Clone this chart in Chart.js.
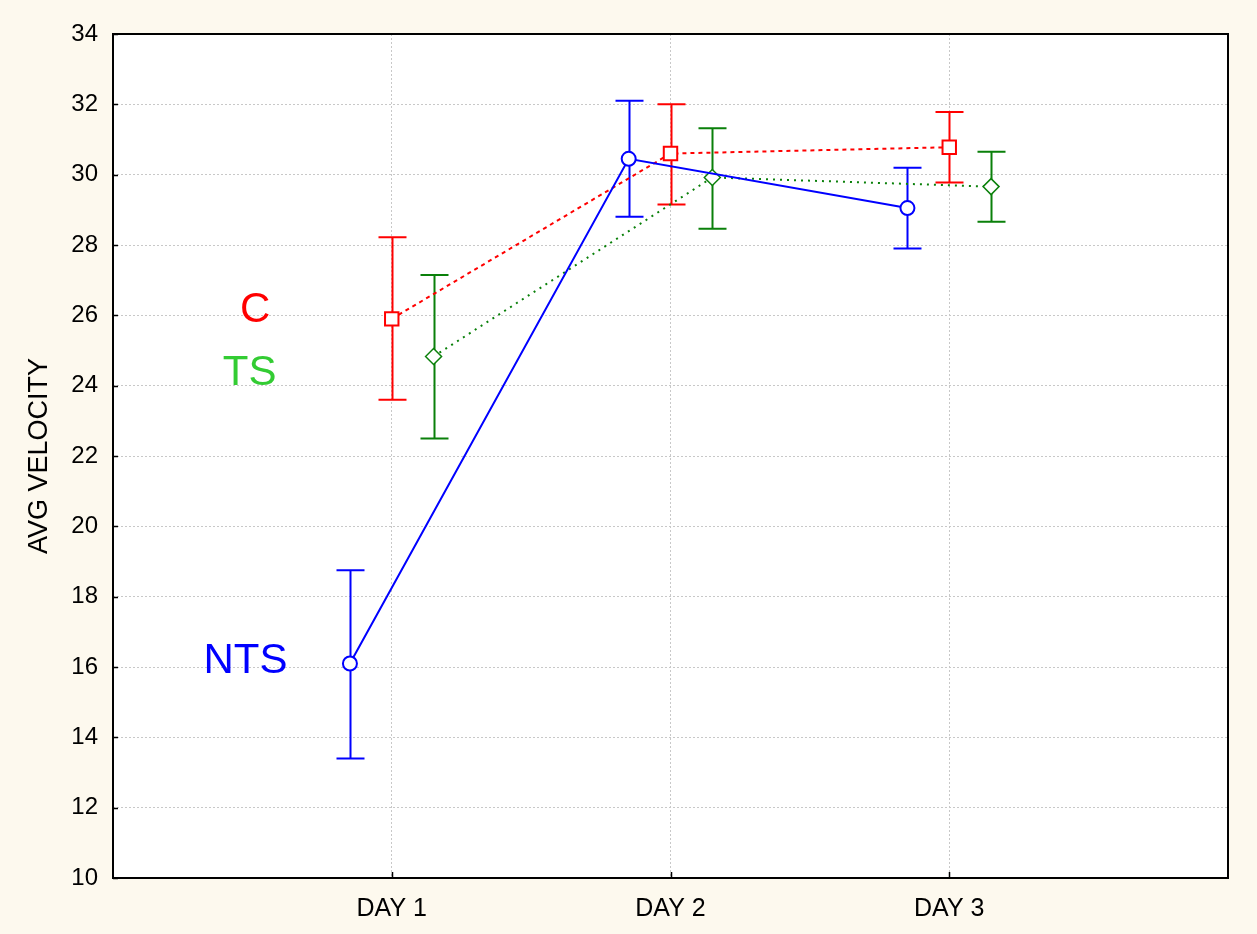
<!DOCTYPE html>
<html>
<head>
<meta charset="utf-8">
<script src="https://cdn.jsdelivr.net/npm/chart.js@4/dist/chart.umd.min.js"></script>
<style>
  html, body { margin: 0; padding: 0; background: #fdf9ee; }
  #wrap { width: 1257px; height: 934px; }
</style>
</head>
<body>
<div id="wrap"><canvas id="velocity" width="1257" height="934"></canvas></div>
<script>
// values
var days = ['DAY 1', 'DAY 2', 'DAY 3'];
var yTicks = [10, 12, 14, 16, 18, 20, 22, 24, 26, 28, 30, 32, 34];
var yTitle = 'AVG VELOCITY';

var ntsMean = [16.1, 30.45, 29.05];
var ntsLow = [13.4, 28.8, 27.9];
var ntsHigh = [18.75, 32.1, 30.2];

var cMean = [25.9, 30.6, 30.78];
var cLow = [23.6, 29.15, 29.78];
var cHigh = [28.22, 32.0, 31.78];

var tsMean = [24.83, 29.92, 29.66];
var tsLow = [22.5, 28.46, 28.66];
var tsHigh = [27.15, 31.32, 30.65];

var ctx = document.getElementById("velocity");
var FONT = '"Liberation Sans", Arial, sans-serif';

// groups are shifted sideways around each day
function pts(mean, low, high, shift) {
  var out = [];
  for (var i = 0; i < mean.length; i++) {
    out.push({ x: i + 1 + shift, y: mean[i], lo: low[i], hi: high[i] });
  }
  return out;
}

// white plot area
var plotBg = {
  id: 'plotBg',
  beforeDraw: function (chart) {
    var c = chart.ctx, a = chart.chartArea;
    c.save();
    c.fillStyle = '#ffffff';
    c.fillRect(a.left, a.top, a.right - a.left, a.bottom - a.top);
    c.restore();
  }
};

// whiskers behind the markers
var errorBars = {
  id: 'errorBars',
  beforeDatasetsDraw: function (chart) {
    var c = chart.ctx, xs = chart.scales.x, ys = chart.scales.y;
    chart.data.datasets.forEach(function (ds) {
      c.save();
      c.strokeStyle = ds.borderColor;
      c.lineWidth = 2;
      ds.data.forEach(function (p) {
        var x = Math.round(xs.getPixelForValue(p.x)) + 0.5;
        var y1 = ys.getPixelForValue(p.lo), y2 = ys.getPixelForValue(p.hi);
        c.beginPath();
        c.moveTo(x, y1); c.lineTo(x, y2);
        c.moveTo(x - 14, y1); c.lineTo(x + 14, y1);
        c.moveTo(x - 14, y2); c.lineTo(x + 14, y2);
        c.stroke();
      });
      c.restore();
    });
  }
};

// frame with inward ticks, axis title and the group names
var frame = {
  id: 'frame',
  afterDraw: function (chart) {
    var c = chart.ctx, a = chart.chartArea, xs = chart.scales.x, ys = chart.scales.y;
    c.save();
    c.strokeStyle = '#000';
    c.lineWidth = 2;
    c.strokeRect(a.left, a.top, a.right - a.left, a.bottom - a.top);
    c.lineWidth = 1.5;
    c.beginPath();
    yTicks.forEach(function (v) {
      var y = Math.round(ys.getPixelForValue(v)) + 0.5;
      c.moveTo(a.left, y); c.lineTo(a.left + 5, y);
    });
    for (var i = 1; i <= days.length; i++) {
      var x = Math.round(xs.getPixelForValue(i)) + 0.5;
      c.moveTo(x, a.bottom); c.lineTo(x, a.bottom - 6);
    }
    c.stroke();

    // y title
    c.save();
    c.translate(40, (a.top + a.bottom) / 2);
    c.rotate(-Math.PI / 2);
    c.fillStyle = '#000';
    c.font = '27px ' + FONT;
    c.textAlign = 'center';
    c.textBaseline = 'middle';
    c.fillText(yTitle, 0, 0);
    c.restore();

    c.font = '42px ' + FONT;
    c.textAlign = 'center';
    c.textBaseline = 'middle';
    var names = [
      { t: 'C', color: '#ff0000', x: 0.51, y: 26.15 },
      { t: 'TS', color: '#33cc33', x: 0.49, y: 24.35 },
      { t: 'NTS', color: '#0000ff', x: 0.475, y: 16.15 }
    ];
    names.forEach(function (n) {
      c.fillStyle = n.color;
      c.fillText(n.t, xs.getPixelForValue(n.x), ys.getPixelForValue(n.y));
    });
    c.restore();
  }
};

var grid = {
  color: '#c8c8c8',
  lineWidth: 1,
  drawTicks: false
};

var myChart = new Chart(ctx, {
  type: 'scatter',
  data: {
    datasets: [{
      label: 'NTS',
      data: pts(ntsMean, ntsLow, ntsHigh, -0.15),
      showLine: true,
      borderColor: '#0000ff',
      backgroundColor: '#ffffff',
      borderWidth: 2,
      pointStyle: 'circle',
      pointRadius: 7,
      pointBorderWidth: 2,
      pointBackgroundColor: '#ffffff'
    }, {
      label: 'C',
      data: pts(cMean, cLow, cHigh, 0),
      showLine: true,
      borderColor: '#ff0000',
      backgroundColor: '#ffffff',
      borderWidth: 2,
      borderDash: [4, 4],
      pointStyle: 'rect',
      pointRadius: 9.5,
      pointBorderWidth: 2,
      pointBackgroundColor: '#ffffff'
    }, {
      label: 'TS',
      data: pts(tsMean, tsLow, tsHigh, 0.15),
      showLine: true,
      borderColor: '#0a800a',
      backgroundColor: '#ffffff',
      borderWidth: 2,
      borderDash: [2, 5],
      pointStyle: 'rectRot',
      pointRadius: 8,
      pointBorderWidth: 1.5,
      pointBackgroundColor: '#ffffff'
    }]
  },
  options: {
    responsive: false,
    animation: false,
    layout: { padding: { top: 34, right: 29, left: 0, bottom: 0 } },
    plugins: {
      legend: { display: false },
      tooltip: { enabled: false }
    },
    scales: {
      x: {
        type: 'linear',
        min: 0,
        max: 4,
        border: { display: false, dash: [2, 2] },
        grid: grid,
        afterBuildTicks: function (axis) {
          axis.ticks = [1, 2, 3].map(function (v) { return { value: v }; });
        },
        afterFit: function (axis) { axis.height = 56; },
        ticks: {
          color: '#000',
          padding: 16,
          font: { family: FONT, size: 25 },
          callback: function (v) { return days[v - 1] || ''; }
        }
      },
      y: {
        min: 10,
        max: 34,
        border: { display: false, dash: [2, 2] },
        grid: grid,
        afterBuildTicks: function (axis) {
          axis.ticks = yTicks.map(function (v) { return { value: v }; });
        },
        afterFit: function (axis) { axis.width = 113; },
        ticks: {
          color: '#000',
          padding: 15,
          font: { family: FONT, size: 24 }
        }
      }
    }
  },
  plugins: [plotBg, errorBars, frame]
});
</script>
</body>
</html>
